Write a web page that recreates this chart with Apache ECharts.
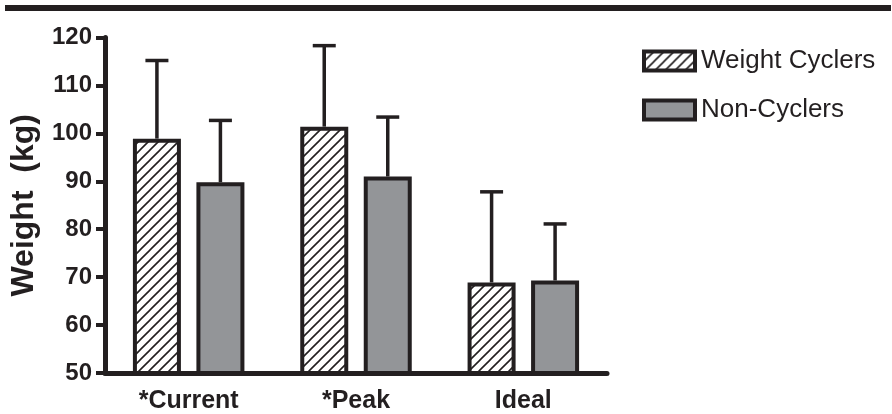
<!DOCTYPE html>
<html>
<head>
<meta charset="utf-8">
<script src="https://cdn.jsdelivr.net/npm/echarts@6/dist/echarts.min.js"></script>
<style>
  html, body { margin: 0; padding: 0; background: #fff; }
  #chart { width: 892px; height: 414px; }
</style>
</head>
<body>
<div id="chart"></div>
<script>
// data
var categories = ['*Current', '*Peak', 'Ideal'];
var seriesNames = ['Weight Cyclers', 'Non-Cyclers'];
var cyclerMean = [98.9, 101.4, 68.9];
var cyclerUpper = [115.2, 118.3, 87.8];
var nonCyclerMean = [89.8, 91.0, 69.3];
var nonCyclerUpper = [102.7, 103.4, 81.1];
var yTicks = [50, 60, 70, 80, 90, 100, 110, 120];

var ink = '#231f20';
var grey = '#939598';
var font = '"Liberation Sans", Arial, sans-serif';

// hatch fill for the cyclers bars
function hatch() {
    var c = document.createElement('canvas');
    c.width = 10;
    c.height = 10;
    var ctx = c.getContext('2d');
    ctx.fillStyle = '#fff';
    ctx.fillRect(0, 0, 10, 10);
    ctx.strokeStyle = ink;
    ctx.lineWidth = 1.6;
    ctx.beginPath();
    ctx.moveTo(0, 10); ctx.lineTo(10, 0);
    ctx.moveTo(-5, 5); ctx.lineTo(5, -5);
    ctx.moveTo(5, 15); ctx.lineTo(15, 5);
    ctx.stroke();
    return c;
}

var barWidth = 48;
var barGap = 15.5;
var offset = (barWidth + barGap) / 2;

// upward-only error bar, shifted to the bar's slot
function errorBar(shift) {
    return function (params, api) {
        var top = api.coord([api.value(0), api.value(2)]);
        var base = api.coord([api.value(0), api.value(1)]);
        var x = top[0] + shift;
        var style = { stroke: ink, lineWidth: 3.5 };
        return {
            type: 'group',
            children: [
                { type: 'line', shape: { x1: x, y1: base[1], x2: x, y2: top[1] }, style: style },
                { type: 'line', shape: { x1: x - 11.5, y1: top[1], x2: x + 11.5, y2: top[1] }, style: style }
            ]
        };
    };
}

function errData(mean, upper) {
    return categories.map(function (c, i) { return [i, mean[i], upper[i]]; });
}

var myChart = echarts.init(document.getElementById('chart'));
var option = {
    animation: false,
    backgroundColor: '#fff',
    textStyle: { fontFamily: font },
    graphic: [
        { type: 'rect', shape: { x: 5, y: 5, width: 886, height: 6 }, style: { fill: ink } }
    ],
    grid: { left: 100, right: 285, top: 37.5, bottom: 39 },
    legend: {
        orient: 'vertical',
        left: 642,
        top: 48,
        padding: 0,
        icon: 'rect',
        itemWidth: 51,
        itemHeight: 19,
        itemGap: 23,
        data: seriesNames,
        itemStyle: { borderWidth: 4, borderColor: ink },
        textStyle: { fontSize: 26, color: ink, fontFamily: font, padding: [0, 0, 0, 1] }
    },
    xAxis: {
        type: 'category',
        data: categories,
        axisLine: { lineStyle: { color: ink, width: 5 } },
        axisTick: { alignWithLabel: true, length: 8, lineStyle: { width: 4, color: ink } },
        axisLabel: { margin: 16, fontSize: 25, fontWeight: 'bold', color: ink, fontFamily: font }
    },
    yAxis: {
        type: 'value',
        min: yTicks[0],
        max: yTicks[yTicks.length - 1],
        interval: 10,
        name: 'Weight  (kg)',
        nameLocation: 'middle',
        nameGap: 65,
        nameTextStyle: { fontSize: 32, fontWeight: 'bold', color: ink, fontFamily: font },
        splitLine: { show: false },
        axisLine: { show: true, lineStyle: { color: ink, width: 5 } },
        axisTick: { show: true, length: 9, lineStyle: { width: 4, color: ink } },
        axisLabel: { margin: 13, fontSize: 24, fontWeight: 'bold', color: ink, fontFamily: font }
    },
    series: [
        {
            name: seriesNames[0],
            type: 'bar',
            data: cyclerMean,
            barWidth: barWidth,
            barGap: (barGap / barWidth * 100) + '%',
            itemStyle: { color: { image: hatch(), repeat: 'repeat' }, borderColor: ink, borderWidth: 4 }
        },
        {
            name: seriesNames[1],
            type: 'bar',
            data: nonCyclerMean,
            barWidth: barWidth,
            itemStyle: { color: grey, borderColor: ink, borderWidth: 4 }
        },
        {
            type: 'custom',
            renderItem: errorBar(-offset),
            data: errData(cyclerMean, cyclerUpper),
            z: 3
        },
        {
            type: 'custom',
            renderItem: errorBar(offset),
            data: errData(nonCyclerMean, nonCyclerUpper),
            z: 3
        }
    ]
};
myChart.setOption(option);
</script>
</body>
</html>
